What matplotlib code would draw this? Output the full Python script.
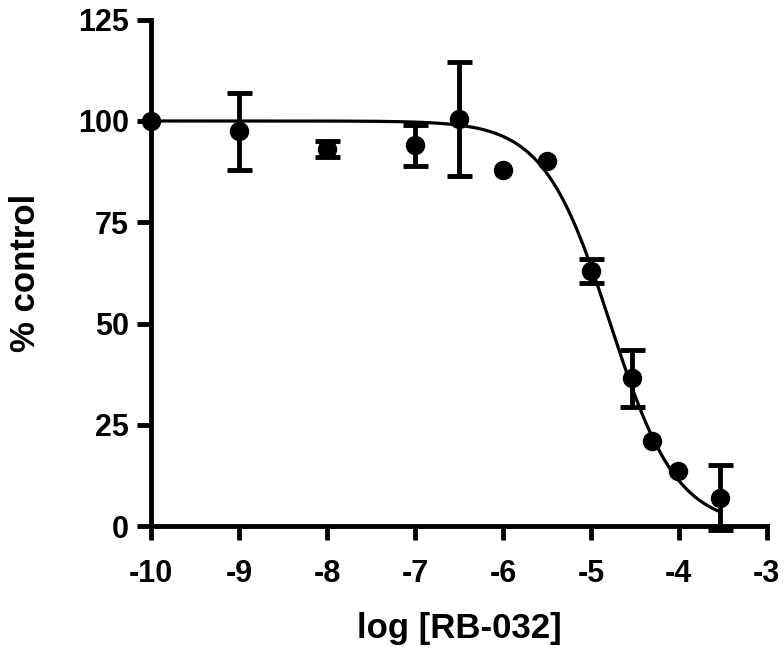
import matplotlib.pyplot as plt
import numpy as np

plt.rcParams['font.family'] = ['Liberation Sans', 'DejaVu Sans']
plt.rcParams['font.weight'] = 'bold'
plt.rcParams['axes.labelweight'] = 'bold'
plt.rcParams['axes.unicode_minus'] = False

# measured points
log_conc = [-10, -9, -8, -7, -6.5, -6, -5.5, -5, -4.53, -4.31, -4.01, -3.53]
pct = [100, 97.5, 93, 94, 100.5, 88, 90, 63, 36.5, 21, 13.7, 7]
err = [0, 9.5, 2, 5, 14, 0, 0, 3, 7, 0, 0, 8]

# fitted curve parameters
top, bottom = 100, 0
log_ic50 = -4.78
hill = 1.15


def sigmoid(x):
    return bottom + (top - bottom) / (1 + 10 ** ((x - log_ic50) * hill))


fig = plt.figure(figsize=(7.84, 6.56), dpi=100)
ax = fig.add_axes([0.193, 0.198, 0.785, 0.772])

xs = np.linspace(-10, -3.53, 300)
ax.plot(xs, sigmoid(xs), 'k', lw=2.3, zorder=2)

x_e = [x for x, e in zip(log_conc, err) if e > 0]
y_e = [y for y, e in zip(pct, err) if e > 0]
e_e = [e for e in err if e > 0]
ax.errorbar(x_e, y_e, yerr=e_e, fmt='none', ecolor='k',
            elinewidth=3.5, capsize=9, capthick=3.5, zorder=3, clip_on=False)
ax.plot(log_conc, pct, 'o', color='k', ms=13, zorder=4, clip_on=False)

ax.set_xlim(-10, -3)
ax.set_ylim(0, 125)
ax.set_xticks(np.arange(-10, -2, 1))
ax.set_yticks(np.arange(0, 126, 25))

for s in ['top', 'right']:
    ax.spines[s].set_visible(False)
for s in ['left', 'bottom']:
    ax.spines[s].set_linewidth(3.5)
ax.tick_params(width=3.5, length=10, labelsize=22)
ax.tick_params(axis='x', pad=14)
ax.tick_params(axis='y', pad=6)

ax.set_xlabel('log [RB-032]', fontsize=25, labelpad=16)
ax.set_ylabel('% control', fontsize=25)
ax.yaxis.set_label_coords(-0.178, 0.5)

fig.savefig('out.png', dpi=100)
